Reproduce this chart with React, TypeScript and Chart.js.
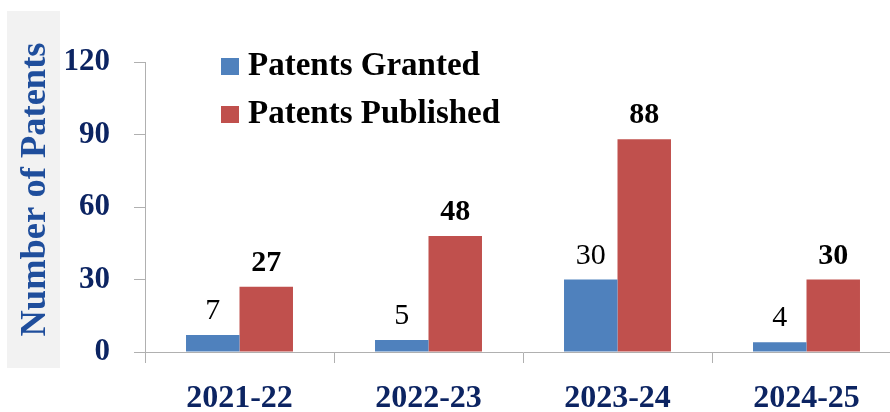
import React, { useEffect, useRef } from "react";
import { Chart, registerables } from "chart.js";

Chart.register(...registerables);

const categories = ["2021-22", "2022-23", "2023-24", "2024-25"];
const grantedValues = [7, 5, 30, 4];
const publishedValues = [27, 48, 88, 30];
const seriesNames = ["Patents Granted", "Patents Published"];
const yTicks = [0, 30, 60, 90, 120];
const yTitle = "Number of Patents";

const SERIF = "'Liberation Serif', 'Times New Roman', serif";
const NAVY = "#0c2462";
const TITLE_BLUE = "#1f4e9c";
const AXIS = "#b0b0b0";

const titlePlugin = {
  id: "boxTitle",
  beforeDraw(chart: any) {
    const ctx = chart.ctx;
    ctx.save();
    ctx.fillStyle = "#f2f2f2";
    ctx.fillRect(7, 11, 53, 357);
    ctx.translate(33.5, 189.5);
    ctx.rotate(-Math.PI / 2);
    ctx.fillStyle = TITLE_BLUE;
    ctx.font = `bold 36.5px ${SERIF}`;
    ctx.textAlign = "center";
    ctx.textBaseline = "middle";
    ctx.fillText(yTitle, 0, 2);
    ctx.restore();
  },
};

const legendPlugin = {
  id: "customLegend",
  afterDraw(chart: any) {
    const ctx = chart.ctx;
    const ca = chart.chartArea;
    ctx.save();
    chart.data.datasets.forEach((ds: any, i: number) => {
      const x = ca.left + 76;
      const y = ca.top - 4 + i * 48;
      ctx.fillStyle = ds.backgroundColor;
      ctx.fillRect(x, y, 18, 17);
      ctx.fillStyle = "#000000";
      ctx.font = `bold 33px ${SERIF}`;
      ctx.textAlign = "left";
      ctx.textBaseline = "alphabetic";
      ctx.fillText(ds.label, x + 27, y + 17);
    });
    ctx.restore();
  },
};

const valueLabelPlugin = {
  id: "valueLabels",
  afterDatasetsDraw(chart: any) {
    const ctx = chart.ctx;
    ctx.save();
    chart.data.datasets.forEach((ds: any, i: number) => {
      const meta = chart.getDatasetMeta(i);
      ctx.font = `${i === 1 ? "bold " : ""}30px ${SERIF}`;
      ctx.fillStyle = "#000000";
      ctx.textAlign = "center";
      ctx.textBaseline = "alphabetic";
      meta.data.forEach((el: any, j: number) => {
        ctx.fillText(String(ds.data[j]), el.x, el.y - 16);
      });
    });
    ctx.restore();
  },
};

export default function App() {
  const ref = useRef<HTMLCanvasElement | null>(null);

  useEffect(() => {
    if (!ref.current) return;
    const chart = new Chart(ref.current, {
      type: "bar",
      data: {
        labels: categories,
        datasets: [
          {
            label: seriesNames[0],
            data: grantedValues,
            backgroundColor: "#4f81bd",
            categoryPercentage: 0.566,
            barPercentage: 1.0,
          },
          {
            label: seriesNames[1],
            data: publishedValues,
            backgroundColor: "#c0504d",
            categoryPercentage: 0.566,
            barPercentage: 1.0,
          },
        ],
      },
      options: {
        responsive: false,
        animation: false,
        devicePixelRatio: 1,
        layout: { padding: { left: 0, top: 62, right: 19, bottom: 0 } },
        plugins: {
          legend: { display: false },
          tooltip: { enabled: false },
        },
        scales: {
          x: {
            grid: {
              offset: true,
              drawOnChartArea: false,
              drawTicks: true,
              tickLength: 11,
              color: AXIS,
            },
            border: { display: true, color: AXIS, width: 1 },
            ticks: {
              color: NAVY,
              padding: 17,
              font: { family: SERIF, size: 32, weight: "bold" },
            },
            afterFit(scale: any) {
              scale.height = 60;
            },
          },
          y: {
            min: 0,
            max: 120,
            afterBuildTicks(scale: any) {
              scale.ticks = yTicks.map((v) => ({ value: v }));
            },
            grid: {
              drawOnChartArea: false,
              drawTicks: true,
              tickLength: 11,
              color: AXIS,
            },
            border: { display: true, color: AXIS, width: 1 },
            ticks: {
              color: NAVY,
              padding: 24,
              font: { family: SERIF, size: 31, weight: "bold" },
            },
            afterFit(scale: any) {
              scale.width = 145;
            },
          },
        },
      },
      plugins: [titlePlugin, legendPlugin, valueLabelPlugin],
    } as any);
    return () => chart.destroy();
  }, []);

  return (
    <div
      style={{
        position: "fixed",
        left: 0,
        top: 0,
        width: 890,
        height: 412,
        overflow: "hidden",
        background: "#ffffff",
      }}
    >
      <canvas ref={ref} width={920} height={412} style={{ display: "block" }} />
    </div>
  );
}
